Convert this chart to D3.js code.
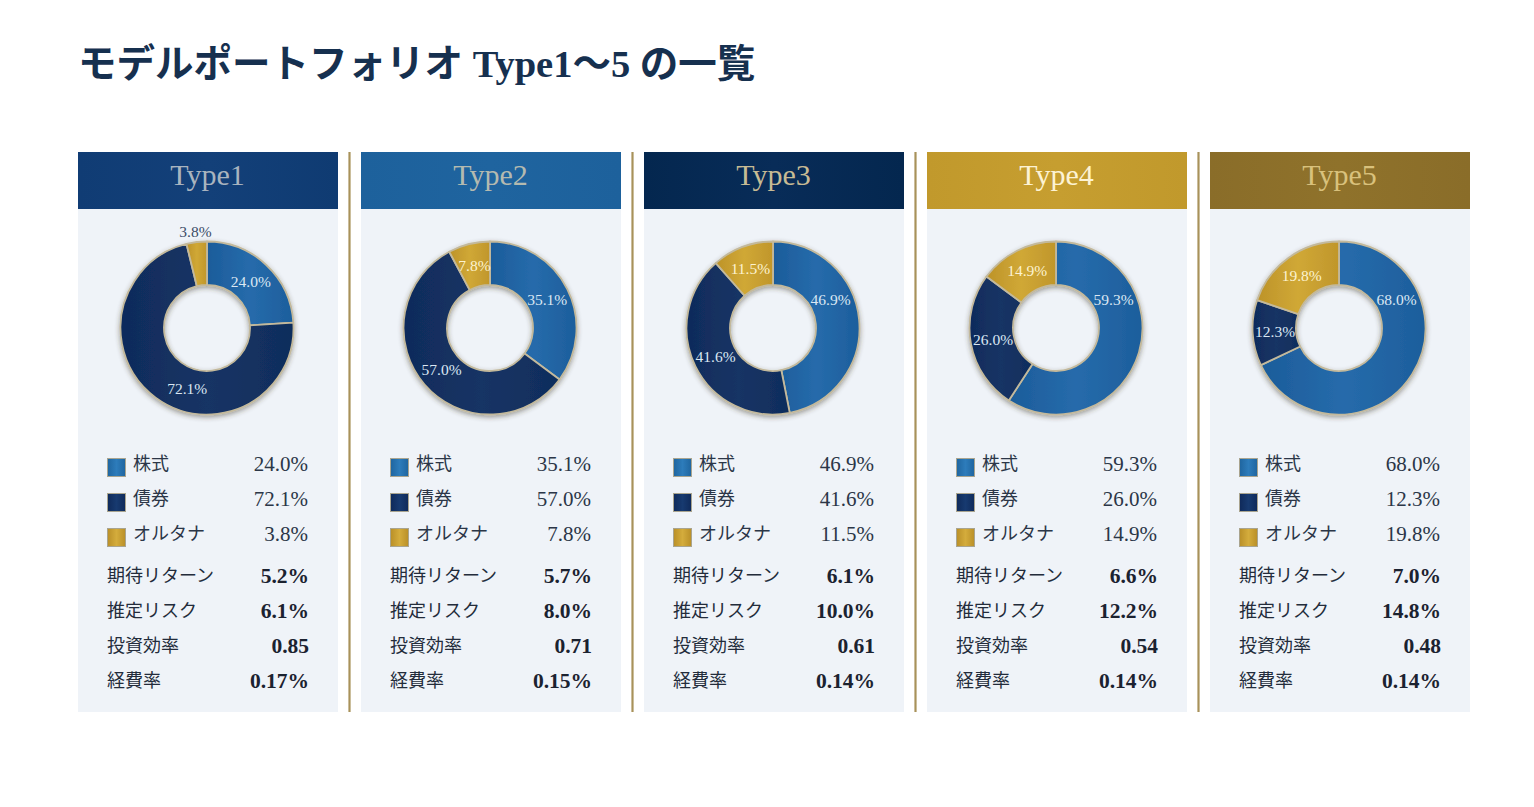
<!DOCTYPE html>
<html lang="ja">
<head>
<meta charset="utf-8">
<script src="https://cdn.jsdelivr.net/npm/d3@7"></script>
<style>
html, body { margin: 0; padding: 0; background: #ffffff; }
svg { display: block; }
text { font-family: "Liberation Serif", "Noto Sans CJK JP", serif; }
</style>
</head>
<body>
<div id="viz"></div>
<script>
//==============================================================================
// Data
var chart_title = "モデルポートフォリオ Type1〜5 の一覧";
var types = ["Type1", "Type2", "Type3", "Type4", "Type5"];
var asset_names = ["株式", "債券", "オルタナ"];
var equity = [24.0, 35.1, 46.9, 59.3, 68.0];
var bonds = [72.1, 57.0, 41.6, 26.0, 12.3];
var alternatives = [3.8, 7.8, 11.5, 14.9, 19.8];
var metric_names = ["期待リターン", "推定リスク", "投資効率", "経費率"];
var expected_return = [5.2, 5.7, 6.1, 6.6, 7.0];
var estimated_risk = [6.1, 8.0, 10.0, 12.2, 14.8];
var efficiency = [0.85, 0.71, 0.61, 0.54, 0.48];
var expense_ratio = [0.17, 0.15, 0.14, 0.14, 0.14];

//==============================================================================
// Initial variables
var width = 1534;
var height = 807;
var card_top = 152, header_height = 57, card_bottom = 712;
var center_y = 328, outer_r = 86.5, inner_r = 43, label_r = 64, outside_r = 97;
var max_label_angle = 64 * Math.PI / 180;

var header_text = ["#a9b4bf", "#b4bab0", "#c7bb94", "#fdf3d4", "#d9c17c"];

var pct = function(v) { return d3.format(".1f")(v) + "%"; };
var pct2 = function(v) { return d3.format(".2f")(v) + "%"; };
var ratio = d3.format(".2f");

var svg = d3.select("#viz")
	.append("svg")
	.attr("width", width)
	.attr("height", height);

//==============================================================================
// Gradients and ring shadow
var defs = svg.append("defs");

var make_gradient = function(id, stops) {
	var g = defs.append("linearGradient").attr("id", id)
		.attr("x1", "0%").attr("x2", "100%").attr("y1", "0%").attr("y2", "0%");
	stops.forEach(function(s, i) {
		g.append("stop").attr("offset", (i / (stops.length - 1) * 100) + "%").attr("stop-color", s);
	});
};
make_gradient("grad0", ["#1c5c9a", "#266bab", "#1d5e9c"]);
make_gradient("grad1", ["#102b5b", "#153465", "#102d5c"]);
make_gradient("grad2", ["#bd9329", "#d0a836", "#c0962b"]);
make_gradient("swatch0", ["#1f659f", "#2d7cbb", "#1f659f"]);
make_gradient("swatch1", ["#0f2a5a", "#173a70", "#0f2a5a"]);
make_gradient("swatch2", ["#b98f28", "#d4ac3c", "#b98f28"]);
make_gradient("head0", ["#103c74", "#134079", "#0f3b72"]);
make_gradient("head1", ["#1d619c", "#1f649f", "#1d619c"]);
make_gradient("head2", ["#04274f", "#082c58", "#04274f"]);
make_gradient("head3", ["#c1992c", "#c69e30", "#c1992c"]);
make_gradient("head4", ["#8a6d29", "#8f722b", "#8a6d29"]);

var shadow = defs.append("filter").attr("id", "ring_shadow")
	.attr("x", "-20%").attr("y", "-20%").attr("width", "140%").attr("height", "140%");
shadow.append("feDropShadow")
	.attr("dx", 0).attr("dy", 2).attr("stdDeviation", 2.5)
	.attr("flood-color", "#3a3320").attr("flood-opacity", 0.45);

//==============================================================================
// Title
svg.append("text")
	.attr("x", 78)
	.attr("y", 77)
	.attr("font-size", 38.5)
	.attr("font-weight", 700)
	.attr("fill", "#16304f")
	.text(chart_title);

//==============================================================================
// Scales
var x = d3.scaleBand().domain(types).range([78, 1470]).paddingInner(23 / 283);
var legend_y = d3.scalePoint().domain(asset_names).range([464, 534]);
var metric_y = d3.scalePoint().domain(metric_names).range([576, 681]);

var pie = d3.pie().sort(null).value(function(d) { return d; });
var arc = d3.arc().innerRadius(inner_r).outerRadius(outer_r);

// separators between the cards
svg.selectAll("line.sep")
	.data(types.slice(1))
	.enter().append("line")
	.attr("class", "sep")
	.attr("x1", function(d) { return x(d) - 11.5; })
	.attr("x2", function(d) { return x(d) - 11.5; })
	.attr("y1", card_top)
	.attr("y2", card_bottom)
	.attr("stroke", "#a8925a")
	.attr("stroke-width", 2.2);

//==============================================================================
// One card per type
var cards = svg.selectAll("g.card")
	.data(types)
	.enter().append("g")
	.attr("class", "card")
	.attr("transform", function(d) { return "translate(" + x(d) + ",0)"; });

cards.each(function(type, i) {
	var card = d3.select(this);
	var w = x.bandwidth();
	var cx = w / 2 - 1;
	var mix = [equity[i], bonds[i], alternatives[i]];
	var metrics = [pct(expected_return[i]), pct(estimated_risk[i]), ratio(efficiency[i]), pct2(expense_ratio[i])];

	card.append("rect")
		.attr("y", card_top)
		.attr("width", w)
		.attr("height", card_bottom - card_top)
		.attr("fill", "#eff3f8");

	card.append("rect")
		.attr("y", card_top)
		.attr("width", w)
		.attr("height", header_height)
		.attr("fill", "url(#head" + i + ")");

	card.append("text")
		.attr("x", w / 2 - 0.5)
		.attr("y", card_top + 33)
		.attr("text-anchor", "middle")
		.attr("font-size", 30)
		.attr("fill", header_text[i])
		.text(type);

	// donut
	var donut = card.append("g")
		.attr("transform", "translate(" + cx + "," + center_y + ")");
	var slices = pie(mix);

	donut.append("g")
		.attr("filter", "url(#ring_shadow)")
		.selectAll("path")
		.data(slices)
		.enter().append("path")
		.attr("d", arc)
		.attr("fill", function(d, k) { return "url(#grad" + k + ")"; })
		.attr("stroke", "#c3b99c")
		.attr("stroke-width", 1.8)
		.attr("stroke-linejoin", "round");

	donut.selectAll("text")
		.data(slices)
		.enter().append("text")
		.attr("transform", function(d, k) {
			var span = d.endAngle - d.startAngle;
			var a = (d.startAngle + d.endAngle) / 2;
			var r = span < 0.3 ? outside_r : label_r;
			if (k === 0) a = Math.min(a, max_label_angle);
			else if (span > 4) a -= 0.32;	// the very wide slice has its label nearer the bottom
			return "translate(" + (r * Math.sin(a)) + "," + (-r * Math.cos(a)) + ")";
		})
		.attr("text-anchor", "middle")
		.attr("dominant-baseline", "central")
		.attr("font-size", 15.5)
		.attr("fill", function(d) {
			if (d.endAngle - d.startAngle < 0.3) return "#3a4c66";
			return d.index === 2 ? "#fdf3d0" : "#dbe7f3";
		})
		.text(function(d) { return pct(d.value); });

	// legend
	var rows = card.selectAll("g.legend")
		.data(asset_names)
		.enter().append("g")
		.attr("class", "legend")
		.attr("transform", function(d) { return "translate(0," + legend_y(d) + ")"; });

	rows.append("rect")
		.attr("x", 29.5)
		.attr("y", -5.5)
		.attr("width", 18)
		.attr("height", 18)
		.attr("fill", function(d, k) { return "url(#swatch" + k + ")"; })
		.attr("stroke", "#a9a48f")
		.attr("stroke-width", 1);

	rows.append("text")
		.attr("x", 55)
		.attr("dominant-baseline", "central")
		.attr("font-size", 18)
		.attr("fill", "#2b3647")
		.text(function(d) { return d; });

	rows.append("text")
		.attr("x", 230)
		.attr("text-anchor", "end")
		.attr("dominant-baseline", "central")
		.attr("font-size", 21)
		.attr("fill", "#2b3647")
		.text(function(d, k) { return pct(mix[k]); });

	// metrics
	var metric_rows = card.selectAll("g.metric")
		.data(metric_names)
		.enter().append("g")
		.attr("class", "metric")
		.attr("transform", function(d) { return "translate(0," + metric_y(d) + ")"; });

	metric_rows.append("text")
		.attr("x", 29)
		.attr("dominant-baseline", "central")
		.attr("font-size", 18)
		.attr("fill", "#232c3b")
		.text(function(d) { return d; });

	metric_rows.append("text")
		.attr("x", 231)
		.attr("text-anchor", "end")
		.attr("dominant-baseline", "central")
		.attr("font-size", 21.5)
		.attr("font-weight", 700)
		.attr("fill", "#1b2230")
		.text(function(d, k) { return metrics[k]; });
});
</script>
</body>
</html>
